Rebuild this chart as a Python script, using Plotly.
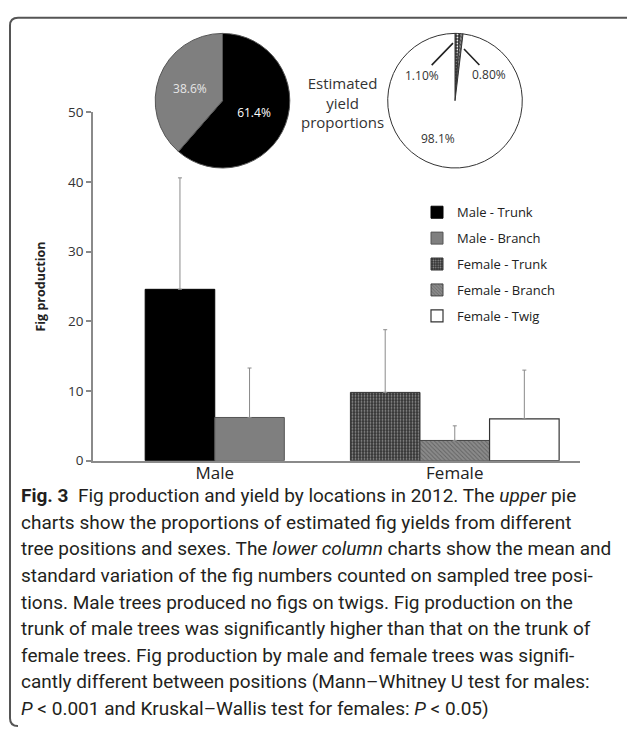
import plotly.graph_objects as go

W, H = 627, 735

# ---------------- data ----------------
bar_labels = ["Male - Trunk", "Male - Branch", "Female - Trunk", "Female - Branch", "Female - Twig"]
bar_sex = ["Male", "Male", "Female", "Female", "Female"]
bar_means = [24.6, 6.2, 9.8, 2.9, 6.0]
bar_sd = [16.0, 7.1, 9.0, 2.1, 7.0]
sex_categories = ["Male", "Female"]
y_ticks = [0, 10, 20, 30, 40, 50]

male_pie_labels = ["Male - Trunk", "Male - Branch"]
male_pie_values = [61.4, 38.6]
male_pie_text = ["61.4%", "38.6%"]
female_pie_labels = ["Female - Trunk", "Female - Branch", "Female - Twig"]
female_pie_values = [1.10, 0.80, 98.1]
female_pie_text = ["1.10%", "0.80%", "98.1%"]

caption_lines = [
    "<b>Fig. 3</b>  Fig production and yield by locations in 2012. The <i>upper</i> pie",
    "charts show the proportions of estimated fig yields from different",
    "tree positions and sexes. The <i>lower column</i> charts show the mean and",
    "standard variation of the fig numbers counted on sampled tree posi-",
    "tions. Male trees produced no figs on twigs. Fig production on the",
    "trunk of male trees was significantly higher than that on the trunk of",
    "female trees. Fig production by male and female trees was signifi-",
    "cantly different between positions (Mann\u2013Whitney U test for males:",
    "<i>P</i> &lt; 0.001 and Kruskal\u2013Wallis test for females: <i>P</i> &lt; 0.05)",
]

# ---------------- styles ----------------
bar_styles = {
    "Male - Trunk": dict(color="#000000", pattern=dict(shape=""), line=dict(color="#000000", width=1)),
    "Male - Branch": dict(color="#7f7f7f", pattern=dict(shape=""), line=dict(color="#555555", width=1)),
    "Female - Trunk": dict(color="#333333", pattern=dict(shape=".", fgcolor="#f2f2f2", bgcolor="#333333",
                                                       size=3, solidity=0.3, fillmode="overlay"),
                           line=dict(color="#333333", width=1)),
    "Female - Branch": dict(color="#8a8a8a", pattern=dict(shape="\\", fgcolor="#3a3a3a", bgcolor="#8a8a8a",
                                                         size=3, solidity=0.3, fillmode="overlay"),
                            line=dict(color="#444444", width=1)),
    "Female - Twig": dict(color="#ffffff", pattern=dict(shape=""), line=dict(color="#333333", width=1.2)),
}

group_centers = {"Male": 1.75, "Female": 5.2}
bar_width = 1.0

def px(x):
    return x / W

def py(y):
    return 1 - y / H

fig = go.Figure()

# bars
counts = {s: bar_sex.count(s) for s in sex_categories}
seen = {s: 0 for s in sex_categories}
for lab, sex, m, sd in zip(bar_labels, bar_sex, bar_means, bar_sd):
    i = seen[sex]
    seen[sex] += 1
    xpos = group_centers[sex] + (i - (counts[sex] - 1) / 2) * bar_width
    fig.add_trace(go.Bar(
        x=[xpos], y=[m], width=bar_width, name=lab, legendgroup=lab,
        marker=bar_styles[lab],
        error_y=dict(type="data", symmetric=False, array=[sd], arrayminus=[0],
                     color="#8a8a8a", thickness=1, width=2),
        hovertemplate=lab + ": %{y}<extra></extra>",
    ))

# pies
fig.add_trace(go.Pie(
    labels=male_pie_labels, values=male_pie_values, text=male_pie_text,
    textinfo="text", textposition="inside", insidetextorientation="horizontal",
    sort=False, direction="clockwise", rotation=0,
    marker=dict(colors=["#000000", "#7f7f7f"], line=dict(color="#555555", width=1)),
    textfont=dict(family="Open Sans", size=12, color=["#ffffff", "#e6e6e6"]),
    domain=dict(x=[px(153), px(292)], y=[py(163), py(25)]),
    showlegend=False, name="Male",
))
fig.add_trace(go.Pie(
    labels=female_pie_labels, values=female_pie_values,
    textinfo="none",
    sort=False, direction="clockwise", rotation=0,
    marker=dict(colors=["#333333", "#8a8a8a", "#ffffff"],
                pattern=dict(shape=[".", "\\", ""], fgcolor=["#f2f2f2", "#3a3a3a", "#ffffff"],
                             bgcolor=["#333333", "#8a8a8a", "#ffffff"], size=3, solidity=0.3),
                line=dict(color="#333333", width=1)),
    domain=dict(x=[px(386), px(524)], y=[py(163), py(25)]),
    showlegend=False, name="Female",
))

annotations = []
# female pie labels (two tiny slices with leader lines, big slice inside)
annotations.append(dict(xref="paper", yref="paper", x=px(453), y=py(35), text=female_pie_text[0],
                        showarrow=True, arrowhead=0, arrowwidth=1.6, arrowcolor="#222222",
                        ax=-31, ay=32, font=dict(family="Open Sans", size=12, color="#333333")))
annotations.append(dict(xref="paper", yref="paper", x=px(464), y=py(41), text=female_pie_text[1],
                        showarrow=True, arrowhead=0, arrowwidth=1.6, arrowcolor="#222222",
                        ax=25, ay=26, font=dict(family="Open Sans", size=12, color="#333333")))
annotations.append(dict(xref="paper", yref="paper", x=px(438), y=py(133), text=female_pie_text[2],
                        xanchor="center", yanchor="middle",
                        showarrow=False, font=dict(family="Open Sans", size=12, color="#333333")))
annotations.append(dict(xref="paper", yref="paper", x=px(342), y=py(96),
                        text="Estimated<br>yield<br>proportions", showarrow=False,
                        font=dict(family="Open Sans", size=15, color="#333333"),
                        xanchor="center", yanchor="middle"))

# caption
cap_top, cap_bottom = 499, 717
step = (cap_bottom - cap_top) / (len(caption_lines) - 1)
for k, line in enumerate(caption_lines):
    annotations.append(dict(xref="paper", yref="paper", x=px(19), y=py(cap_top + k * step),
                            text=line, showarrow=False, xanchor="left", yanchor="middle",
                            font=dict(family="Roboto", size=19, color="#231f20")))

# border path
def P(x, y):
    return f"{px(x):.5f},{py(y):.5f}"

border = (f"M {P(627, 9)} L {P(18, 9)} Q {P(10, 9)} {P(10, 17)} "
          f"L {P(10, 727)} Q {P(10, 735)} {P(18, 735)}")

fig.update_layout(
    width=W, height=H,
    margin=dict(l=0, r=0, t=0, b=0),
    paper_bgcolor="#ffffff", plot_bgcolor="#ffffff",
    barmode="overlay",
    font=dict(family="Open Sans", color="#333333"),
    xaxis=dict(domain=[px(93), px(580)], range=[0, 7], tickvals=[group_centers[s] for s in sex_categories],
               ticktext=sex_categories, showline=True, linecolor="#8a8a8a", linewidth=1.5,
               ticks="", showgrid=False, zeroline=False, fixedrange=True, ticklabelstandoff=-4,
               tickfont=dict(family="Open Sans", size=17, color="#222222")),
    yaxis=dict(domain=[py(463), py(106)], range=[0, 50], tickvals=y_ticks,
               showline=True, linecolor="#8a8a8a", linewidth=1.5, ticks="outside", ticklen=5,
               tickcolor="#8a8a8a", tickwidth=1.5, showgrid=False, zeroline=False, fixedrange=True,
               tickfont=dict(family="Open Sans", size=13.5, color="#333333"),
               title=dict(text="<b>Fig production</b>", standoff=20,
                          font=dict(family="Open Sans", size=12.5, color="#222222"))),
    legend=dict(x=px(417), y=py(193), xanchor="left", yanchor="top", bgcolor="rgba(0,0,0,0)",
                font=dict(family="Open Sans", size=13, color="#222222"), tracegroupgap=6,
                traceorder="grouped"),
    annotations=annotations,
    shapes=[dict(type="path", xref="paper", yref="paper", path=border,
                 line=dict(color="#555555", width=2))],
)

post = ("document.documentElement.style.margin='0';document.body.style.margin='0';"
        "document.documentElement.style.overflow='hidden';document.body.style.overflow='hidden';"
        "var d=document.getElementById('{plot_id}');d.style.position='fixed';d.style.left='0';d.style.top='0';")
fig.write_html("out.html", config={"displayModeBar": False}, post_script=post)
